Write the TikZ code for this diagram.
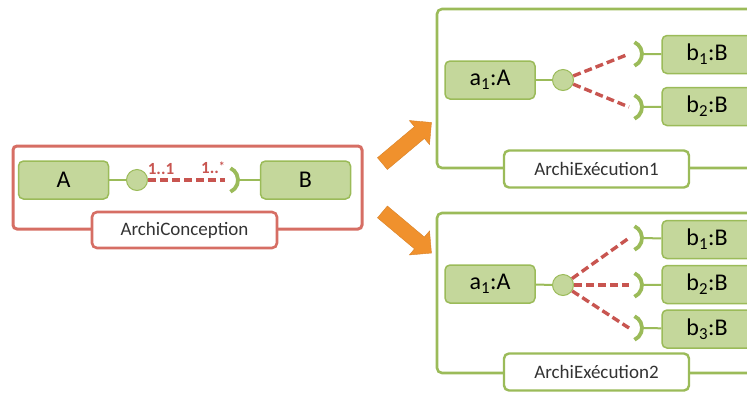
\documentclass[tikz,border=0pt]{standalone}
\usepackage{fontspec}
\setmainfont{Carlito}
\usetikzlibrary{shapes.arrows}
\definecolor{gfill}{RGB}{196,215,155}
\definecolor{gline}{RGB}{155,187,89}
\definecolor{rframe}{RGB}{214,110,100}
\definecolor{rdash}{RGB}{200,85,80}
\definecolor{orng}{RGB}{240,145,45}
\begin{document}
\begin{tikzpicture}[x=1pt,y=-1pt,
  comp/.style={draw=gline, fill=gfill, line width=1.5pt, rounded corners=5pt, minimum width=90pt, minimum height=38pt, inner sep=0pt, font=\fontsize{24}{26}\selectfont},
  ball/.style={circle, draw=gline, fill=gfill, line width=1pt, minimum size=21pt, inner sep=0pt},
  conn/.style={draw=gline, line width=2pt},
  sock/.style={draw=gline, line width=3.8pt},
  rdashed/.style={draw=rdash, line width=3.4pt, dash pattern=on 8pt off 4pt},
  rfr/.style={draw=rframe, line width=3pt, rounded corners=4pt},
  gfr/.style={draw=gline, line width=2.6pt, rounded corners=5pt},
  rlab/.style={draw=rframe, line width=2.6pt, fill=white, rounded corners=5pt, minimum width=185pt, minimum height=36pt, inner sep=0pt, font=\fontsize{19}{21}\selectfont, text=black!80},
  glab/.style={draw=gline, line width=2.4pt, fill=white, rounded corners=5pt, minimum width=185pt, minimum height=37pt, inner sep=0pt, font=\fontsize{19}{21}\selectfont, text=black!80},
  mult/.style={text=rdash, font=\bfseries\fontsize{17}{18}\selectfont, inner sep=0pt},
  bigarrow/.style={single arrow, fill=orng, draw=orng!90!black, line width=0.4pt, inner sep=7.5pt, minimum height=64pt, single arrow head extend=8pt}
]
\useasboundingbox (0,0) rectangle (747,392);
\clip (0,0) rectangle (747,392);

% ---- ArchiConception ----
\draw[rfr] (13,146) rectangle (362,229);
\node[rlab] (lc) at (184.5,230) {ArchiConception};
\node[comp] (A) at (63.5,180) {A};
\node[comp] (B) at (305.5,180) {B};
\node[ball] (ba) at (137,180) {};
\coordinate (sa) at (225,180);
\coordinate (sae) at (238,180);
\draw[conn] (A) -- (ba);
\draw[rdashed] (ba) -- (sa);
\draw[sock] ([shift={(-65:13pt)}]sa) arc[start angle=-65, end angle=65, radius=13pt];
\draw[conn] (sae) -- (B);
\node[mult] (m1) at (161,169) {1..1};
\node[mult] (m2) at (213,168) {1..\raisebox{3pt}{\fontsize{12}{12}\selectfont*}};

% ---- arrows ----
\node[bigarrow, rotate=40] (ar1) at (404,145.5) {};
\node[bigarrow, rotate=-40] (ar2) at (404,230) {};

% ---- ArchiExecution1 ----
\draw[gfr] (437,9) rectangle (775,168);
\node[glab] (l1) at (596.5,169) {ArchiExécution1};
\node[comp] (a1) at (490,80) {a\textsubscript{1}:A};
\node[ball] (b1ball) at (563,80) {};
\node[comp] (b11) at (707,54.5) {b\textsubscript{1}:B};
\node[comp] (b12) at (707,106.5) {b\textsubscript{2}:B};
\coordinate (s11) at (629,54);
\coordinate (s11e) at (642,54);
\coordinate (s12) at (629,107);
\coordinate (s12e) at (642,107);
\draw[conn] (a1) -- (b1ball);
\draw[rdashed] (b1ball) -- (s11);
\draw[rdashed] (b1ball) -- (s12);
\draw[sock] ([shift={(-65:13pt)}]s11) arc[start angle=-65, end angle=65, radius=13pt];
\draw[sock] ([shift={(-65:13pt)}]s12) arc[start angle=-65, end angle=65, radius=13pt];
\draw[conn] (s11e) -- (b11);
\draw[conn] (s12e) -- (b12);

% ---- ArchiExecution2 ----
\draw[gfr] (437,213) rectangle (775,373);
\node[glab] (l2) at (596.5,372) {ArchiExécution2};
\node[comp] (a2) at (490,284) {a\textsubscript{1}:A};
\node[ball] (b2ball) at (563,285) {};
\node[comp] (b21) at (707,239.5) {b\textsubscript{1}:B};
\node[comp] (b22) at (707,284.5) {b\textsubscript{2}:B};
\node[comp] (b23) at (707,329) {b\textsubscript{3}:B};
\coordinate (s21) at (629,238);
\coordinate (s21e) at (642,238);
\coordinate (s22) at (629,285);
\coordinate (s22e) at (642,285);
\coordinate (s23) at (629,328);
\coordinate (s23e) at (642,328);
\draw[conn] (a2) -- (b2ball);
\draw[rdashed] (b2ball) -- (s21);
\draw[rdashed] (b2ball) -- (s22);
\draw[rdashed] (b2ball) -- (s23);
\draw[sock] ([shift={(-65:13pt)}]s21) arc[start angle=-65, end angle=65, radius=13pt];
\draw[sock] ([shift={(-65:13pt)}]s22) arc[start angle=-65, end angle=65, radius=13pt];
\draw[sock] ([shift={(-65:13pt)}]s23) arc[start angle=-65, end angle=65, radius=13pt];
\draw[conn] (s21e) -- (b21);
\draw[conn] (s22e) -- (b22);
\draw[conn] (s23e) -- (b23);
\end{tikzpicture}
\end{document}
